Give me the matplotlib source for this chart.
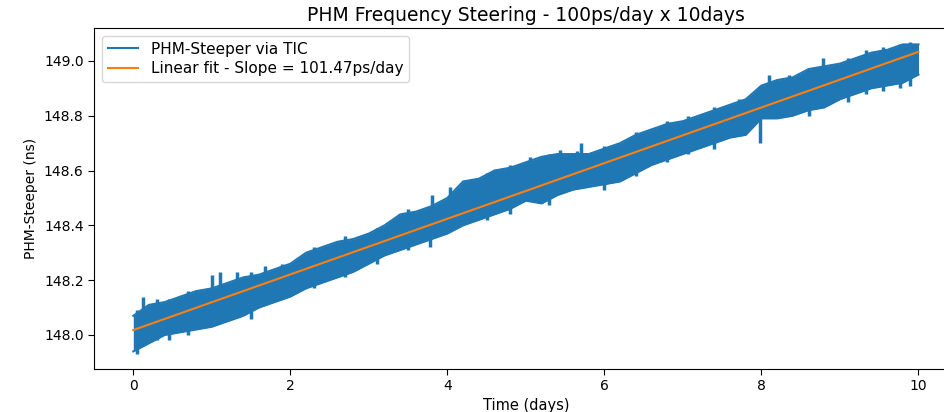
import matplotlib
matplotlib.use("Agg")
import matplotlib.pyplot as plt

t_grid = [0.0, 0.2, 0.4, 0.6, 0.8, 1.0, 1.2, 1.4, 1.6, 1.8,
          2.0, 2.2, 2.4, 2.6, 2.8, 3.0, 3.2, 3.4, 3.6, 3.8,
          4.0, 4.2, 4.4, 4.6, 4.8, 5.0, 5.2, 5.4, 5.6, 5.8,
          6.0, 6.2, 6.4, 6.6, 6.8, 7.0, 7.2, 7.4, 7.6, 7.8,
          8.0, 8.2, 8.4, 8.6, 8.8, 9.0, 9.2, 9.4, 9.6, 9.8, 10.0]
upper = [148.07, 148.11, 148.12, 148.14, 148.16, 148.17, 148.19, 148.21, 148.22, 148.24,
         148.26, 148.30, 148.32, 148.34, 148.35, 148.37, 148.40, 148.44, 148.45, 148.47,
         148.50, 148.56, 148.57, 148.60, 148.61, 148.63, 148.65, 148.66, 148.66, 148.66,
         148.68, 148.70, 148.73, 148.75, 148.77, 148.78, 148.80, 148.82, 148.84, 148.86,
         148.91, 148.93, 148.94, 148.97, 148.98, 148.99, 149.01, 149.03, 149.04, 149.06, 149.06]
lower = [147.94, 147.97, 148.00, 148.01, 148.02, 148.03, 148.05, 148.07, 148.10, 148.12,
         148.14, 148.17, 148.19, 148.21, 148.23, 148.26, 148.29, 148.31, 148.33, 148.35,
         148.37, 148.40, 148.42, 148.44, 148.46, 148.49, 148.48, 148.51, 148.53, 148.54,
         148.55, 148.56, 148.59, 148.62, 148.64, 148.66, 148.68, 148.70, 148.72, 148.73,
         148.79, 148.79, 148.80, 148.82, 148.83, 148.86, 148.88, 148.90, 148.91, 148.92, 148.95]

# single glitches sticking out of the band (time, low end, high end)
spike_t = [0.05, 0.13, 0.3, 0.45, 0.7, 1.0, 1.1, 1.32, 1.5, 1.68, 1.89, 2.3, 2.7, 3.1, 3.5,
           3.78, 3.8, 4.03, 4.5, 4.8, 5.05, 5.3, 5.43, 5.65, 5.7, 6.0, 6.4, 6.8, 7.07,
           7.4, 7.72, 7.98, 8.1, 8.35, 8.6, 8.78, 9.1, 9.33, 9.55, 9.76, 9.89]
spike_lo = [147.93, 148.05, 147.98, 147.98, 148.00, 148.08, 148.09, 148.10, 148.06, 148.12, 148.14, 148.17, 148.21, 148.26, 148.31,
            148.32, 148.37, 148.40, 148.42, 148.44, 148.50, 148.475, 148.52, 148.55, 148.56, 148.53, 148.58, 148.63, 148.66,
            148.68, 148.73, 148.70, 148.79, 148.80, 148.80, 148.84, 148.85, 148.88, 148.89, 148.90, 148.91]
spike_hi = [148.09, 148.14, 148.13, 148.13, 148.16, 148.22, 148.23, 148.23, 148.23, 148.25, 148.26, 148.32, 148.36, 148.39, 148.46,
            148.46, 148.51, 148.54, 148.59, 148.62, 148.65, 148.66, 148.675, 148.67, 148.70, 148.69, 148.74, 148.78, 148.80,
            148.83, 148.86, 148.91, 148.95, 148.95, 148.97, 149.01, 149.01, 149.04, 149.05, 149.06, 149.07]

# linear fit endpoints
fit_t = [0.0, 10.0]
fit_v = [148.018, 149.033]

fig = plt.figure(figsize=(9.45, 4.12), dpi=100)
ax = fig.add_axes([0.0995, 0.1044, 0.914, 0.8277])

blue = "#1f77b4"
ax.fill_between(t_grid, lower, upper, color=blue, linewidth=0)
ax.plot(t_grid, upper, color=blue, lw=1.5, label="PHM-Steeper via TIC")
ax.plot(t_grid, lower, color=blue, lw=1.5)
ax.vlines(spike_t, spike_lo, spike_hi, color=blue, lw=2.5)
ax.plot(fit_t, fit_v, color="#ff7f0e", lw=1.5, label="Linear fit - Slope = 101.47ps/day")

ax.set_xlim(-0.5, 10.5)
ax.set_ylim(147.876, 149.12)
ax.set_xticks([0, 2, 4, 6, 8, 10])
ax.set_yticks([148.0, 148.2, 148.4, 148.6, 148.8, 149.0])
ax.tick_params(labelsize=10, length=4)
ax.set_xlabel("Time (days)", fontsize=10.5, labelpad=3)
ax.set_ylabel("PHM-Steeper (ns)", fontsize=10)
ax.set_title("PHM Frequency Steering - 100ps/day x 10days", fontsize=13.5, pad=5)
ax.legend(loc="upper left", fontsize=11, labelspacing=0.3)

plt.savefig("out.png", dpi=100)
